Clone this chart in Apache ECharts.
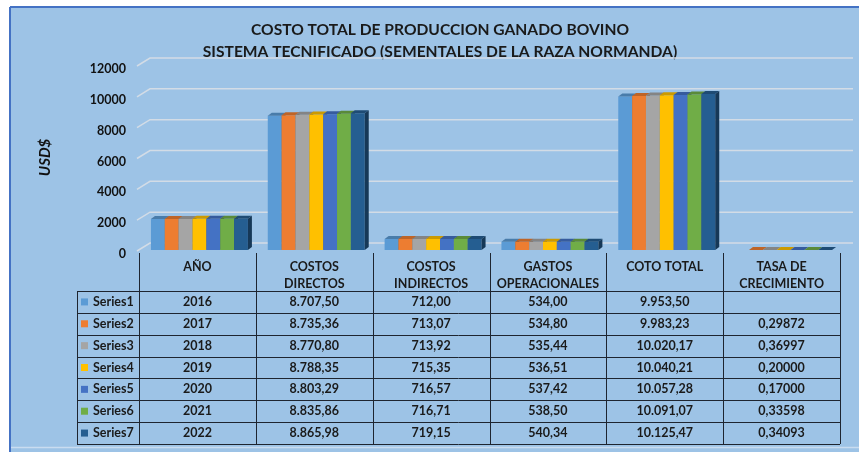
<!DOCTYPE html>
<html>
<head>
<meta charset="utf-8">
<script src="https://cdn.jsdelivr.net/npm/echarts@6/dist/echarts.min.js"></script>
<style>
html, body { margin: 0; padding: 0; background: #fff; }
#chart { width: 859px; height: 452px; }
</style>
</head>
<body>
<div id="chart"></div>
<script>
// datos de la tabla
const categorias = ['AÑO', 'COSTOS\nDIRECTOS', 'COSTOS\nINDIRECTOS', 'GASTOS\nOPERACIONALES', 'COTO TOTAL', 'TASA DE\nCRECIMIENTO'];
const seriesNombres = ['Series1', 'Series2', 'Series3', 'Series4', 'Series5', 'Series6', 'Series7'];
const seriesColores = ['#5B9BD5', '#ED7D31', '#A5A5A5', '#FFC000', '#4472C4', '#70AD47', '#255E91'];
const anios = [2016, 2017, 2018, 2019, 2020, 2021, 2022];
const costosDirectos = [8707.50, 8735.36, 8770.80, 8788.35, 8803.29, 8835.86, 8865.98];
const costosIndirectos = [712.00, 713.07, 713.92, 715.35, 716.57, 716.71, 719.15];
const gastosOperacionales = [534.00, 534.80, 535.44, 536.51, 537.42, 538.50, 540.34];
const cotoTotal = [9953.50, 9983.23, 10020.17, 10040.21, 10057.28, 10091.07, 10125.47];
const tasaCrecimiento = [null, 0.29872, 0.36997, 0.20000, 0.17000, 0.33598, 0.34093];
const yTicks = [0, 2000, 4000, 6000, 8000, 10000, 12000];

const FONT = 'Lato, "Open Sans", sans-serif';
const DX = 4, DY = 3;      // cara superior de las barras
const WX = 13, WY = 7;     // profundidad de la pared del fondo

function fila(i) {
  return [anios[i], costosDirectos[i], costosIndirectos[i], gastosOperacionales[i], cotoTotal[i], tasaCrecimiento[i]];
}

function oscurecer(hex, f) {
  const n = parseInt(hex.slice(1), 16);
  const r = Math.round(((n >> 16) & 255) * f);
  const g = Math.round(((n >> 8) & 255) * f);
  const b = Math.round((n & 255) * f);
  return 'rgb(' + r + ',' + g + ',' + b + ')';
}

// formato es: 8.707,50
function fmt(v, dec) {
  if (v == null) return '';
  const partes = v.toFixed(dec).split('.');
  partes[0] = partes[0].replace(/\B(?=(\d{3})+(?!\d))/g, '.');
  return partes.join(',');
}

function barra3d(idx) {
  return function (params, api) {
    const cat = api.value(0);
    const v = api.value(1);
    const top = api.coord([cat, v]);
    const base = api.coord([cat, 0]);
    const band = api.size([1, 0])[0];
    const grupo = band * 0.83;
    const w = grupo / seriesNombres.length;
    const x = top[0] - grupo / 2 + idx * w + 2;
    const yt = top[1], yb = base[1];
    const c = seriesColores[idx];
    return {
      type: 'group',
      children: [
        { type: 'rect', shape: { x: x, y: yt, width: w, height: yb - yt }, style: { fill: c } },
        { type: 'polygon', shape: { points: [[x, yt], [x + DX, yt - DY], [x + w + DX, yt - DY], [x + w, yt]] },
          style: { fill: oscurecer(c, 0.8) } },
        { type: 'polygon', shape: { points: [[x + w, yt], [x + w + DX, yt - DY], [x + w + DX, yb - DY], [x + w, yb]] },
          style: { fill: oscurecer(c, 0.6) } }
      ]
    };
  };
}

const chart = echarts.init(document.getElementById('chart'), null, { renderer: 'canvas' });

const series = [{
  // lineas de la pared del fondo
  type: 'custom',
  z: 1,
  silent: true,
  data: yTicks.map(function (v) { return [0, v]; }),
  renderItem: function (params, api) {
    const cs = params.coordSys;
    const y = api.coord([0, api.value(1)])[1];
    const xl = cs.x, xr = cs.x + cs.width;
    return {
      type: 'polyline',
      shape: { points: [[xl - 2, y + 1], [xl + WX - 2, y - WY], [xr + WX, y - WY]] },
      style: { stroke: '#D3DCE6', lineWidth: 1.5, fill: null }
    };
  }
}];

seriesNombres.forEach(function (nombre, i) {
  series.push({
    name: nombre,
    type: 'custom',
    z: 2,
    renderItem: barra3d(i),
    data: fila(i).map(function (v, j) { return [j, v]; }).filter(function (d) { return d[1] != null; })
  });
});

const option = {
  backgroundColor: '#fff',
  animation: false,
  grid: { left: 139, right: 19, top: 65, bottom: 202 },
  xAxis: {
    type: 'category',
    data: categorias,
    axisLine: { show: false },
    axisTick: { show: false },
    axisLabel: { show: false }
  },
  yAxis: {
    type: 'value',
    min: 0,
    max: 12000,
    interval: 2000,
    name: 'USD$',
    nameLocation: 'middle',
    nameRotate: 90,
    nameGap: 86,
    nameTextStyle: { fontFamily: FONT, fontWeight: 'bold', fontStyle: 'italic', fontSize: 15, color: '#111' },
    axisLine: { show: false },
    axisTick: { show: false },
    splitLine: { show: false },
    axisLabel: {
      fontFamily: FONT, fontWeight: 'bold', fontSize: 12.5, color: '#111', margin: 13,
      verticalAlign: 'top', lineHeight: 8,
      formatter: function (v) { return String(v); }
    }
  },
  series: series
};

chart.setOption(option);

// tabla de datos debajo del grafico
const centros = categorias.map(function (c, j) { return chart.convertToPixel({ xAxisIndex: 0 }, j); });
const band = centros[1] - centros[0];
const bordes = [centros[0] - band / 2].concat(centros.map(function (c) { return c + band / 2; }));
const xLeyenda = 77;
const yCab = 253, yFilas = 291, altoFila = (444 - 291) / 7;
const colorLinea = '#1E2530';
const estiloTexto = { fontFamily: FONT, fontWeight: 'bold', fontSize: 12.5, fill: '#1a1a1a' };

const graficos = [
  { type: 'rect', z: -10, silent: true, shape: { x: 10, y: 7, width: 849, height: 445 }, style: { fill: '#9DC3E6' } },
  { type: 'line', z: -9, shape: { x1: 10, y1: 7, x2: 859, y2: 7 }, style: { stroke: '#4472C4', lineWidth: 2 } },
  { type: 'line', z: -9, shape: { x1: 10, y1: 7, x2: 10, y2: 452 }, style: { stroke: '#4472C4', lineWidth: 2 } },
  { type: 'line', z: -9, shape: { x1: 11, y1: 447.5, x2: 859, y2: 447.5 }, style: { stroke: '#C9DCF0', lineWidth: 1.5 } },
  { type: 'text', x: 440, y: 30, style: Object.assign({}, estiloTexto, {
      text: 'COSTO TOTAL DE PRODUCCION GANADO BOVINO', fontSize: 15.6, align: 'center', verticalAlign: 'middle' }) },
  { type: 'text', x: 440, y: 52, style: Object.assign({}, estiloTexto, {
      text: 'SISTEMA TECNIFICADO (SEMENTALES DE LA RAZA NORMANDA)', fontSize: 15.6, align: 'center', verticalAlign: 'middle' }) }
];

// lineas horizontales
for (let k = 0; k <= 7; k++) {
  const y = Math.round(yFilas + k * altoFila) + 0.5;
  graficos.push({ type: 'line', shape: { x1: xLeyenda, y1: y, x2: bordes[bordes.length - 1], y2: y },
    style: { stroke: colorLinea, lineWidth: 1 } });
}
// lineas verticales
graficos.push({ type: 'line', shape: { x1: xLeyenda + 0.5, y1: yFilas, x2: xLeyenda + 0.5, y2: 444 },
  style: { stroke: colorLinea, lineWidth: 1 } });
bordes.forEach(function (bx) {
  const x = Math.round(bx) + 0.5;
  graficos.push({ type: 'line', shape: { x1: x, y1: yCab, x2: x, y2: 444 }, style: { stroke: colorLinea, lineWidth: 1 } });
});
// encabezados
categorias.forEach(function (c, j) {
  graficos.push({ type: 'text', x: centros[j], y: 258,
    style: Object.assign({}, estiloTexto, { text: c, align: 'center', verticalAlign: 'top', lineHeight: 17 }) });
});
// filas
seriesNombres.forEach(function (nombre, i) {
  const yc = yFilas + (i + 0.5) * altoFila;
  graficos.push({ type: 'rect', shape: { x: 81, y: yc - 3.5, width: 7, height: 7 }, style: { fill: seriesColores[i] } });
  graficos.push({ type: 'text', x: 93, y: yc,
    style: Object.assign({}, estiloTexto, { text: nombre, align: 'left', verticalAlign: 'middle' }) });
  const valores = fila(i);
  const textos = [String(valores[0]), fmt(valores[1], 2), fmt(valores[2], 2), fmt(valores[3], 2), fmt(valores[4], 2), fmt(valores[5], 5)];
  textos.forEach(function (t, j) {
    graficos.push({ type: 'text', x: centros[j], y: yc,
      style: Object.assign({}, estiloTexto, { text: t, align: 'center', verticalAlign: 'middle' }) });
  });
});

chart.setOption({ graphic: graficos });
</script>
</body>
</html>
